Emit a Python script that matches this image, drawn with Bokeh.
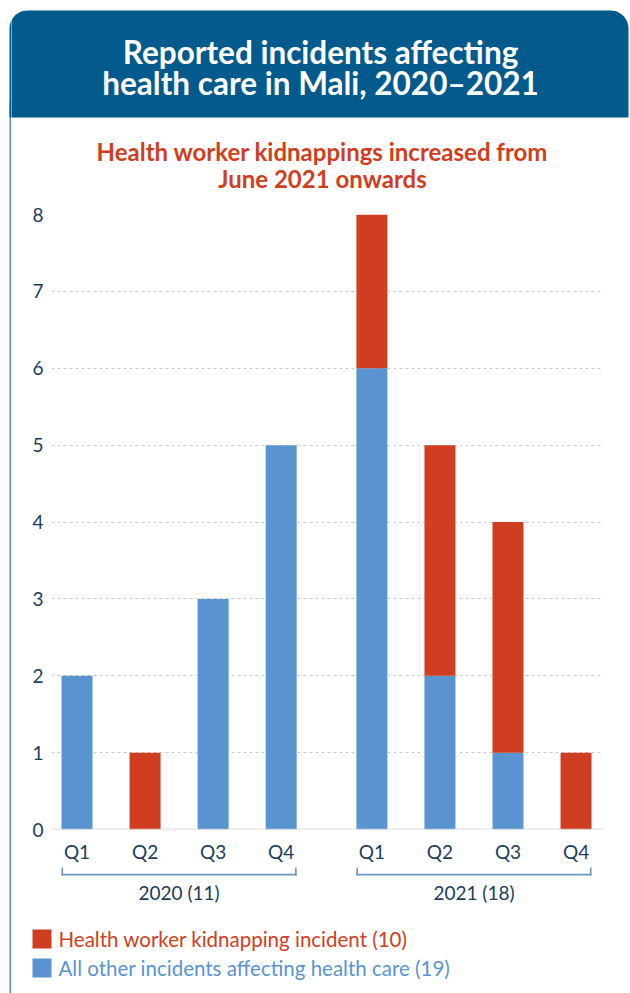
import math
from bokeh.plotting import figure
from bokeh.layouts import column, row
from bokeh.models import Range1d, FixedTicker, Span, ColumnDataSource
from bokeh.core.properties import value
from bokeh.embed import file_html
from bokeh.resources import INLINE

# ---------------- data ----------------
title_lines = ["Reported incidents affecting", "health care in Mali, 2020\u20132021"]
subtitle_lines = ["Health worker kidnappings increased from", "June 2021 onwards"]
years = ["2020", "2020", "2020", "2020", "2021", "2021", "2021", "2021"]
quarters = ["Q1", "Q2", "Q3", "Q4", "Q1", "Q2", "Q3", "Q4"]
kidnapping = [0, 1, 0, 0, 2, 3, 3, 1]
other = [2, 0, 3, 5, 6, 2, 1, 0]
series_names = ["Health worker kidnapping incident",
                "All other incidents affecting health care"]
y_ticks = [0, 1, 2, 3, 4, 5, 6, 7, 8]

# ---------------- style ----------------
HEADER = "#035a8c"
RED = "#cf3e21"
BLUE = "#5a94d0"
NAVY = "#1b3d5b"
STEEL = "#6b98bf"
CARD = "#5b8cb9"
GRID = "#c9c9c9"
FONT = "Lato"

W, H = 630, 993
STRIP_W = 11           # left strip carrying the card border
TOP_H = 200            # header panel height
MAIN_BOTTOM = 866      # page y where chart panel ends
FL, FR, FT, FB = 51, 603, 214, 829   # chart frame edges in page pixels

year_order = list(dict.fromkeys(years))
pos = [3 * i + year_order.index(y) for i, y in enumerate(years)]
XS, XE = -1.125, 23.21
YS, YE = 0, 8
BW = 31 * (XE - XS) / (FR - FL)

def px_of(x):
    return FL + (x - XS) * (FR - FL) / (XE - XS)


def no_align(f):
    if "frame_align" in f.properties():
        f.frame_align = False


def pixel_panel(x0, x1, y0, y1):
    f = figure(width=x1 - x0, height=y1 - y0, output_backend="svg", toolbar_location=None,
               x_range=Range1d(x0, x1), y_range=Range1d(y1, y0),
               x_axis_type=None, y_axis_type=None, min_border=0)
    f.outline_line_color = None
    f.grid.visible = False
    f.background_fill_color = "white"
    f.border_fill_color = "white"
    no_align(f)
    return f


def rounded_top(x0, x1, y0, y1, r, n=12):
    pts = [(x0, y1), (x0, y0 + r)]
    for k in range(1, n):
        a = math.pi + k * (math.pi / 2) / n
        pts.append((x0 + r + r * math.cos(a), y0 + r + r * math.sin(a)))
    pts.append((x0 + r, y0))
    pts.append((x1 - r, y0))
    for k in range(1, n):
        a = 1.5 * math.pi + k * (math.pi / 2) / n
        pts.append((x1 - r + r * math.cos(a), y0 + r + r * math.sin(a)))
    pts.append((x1, y0 + r))
    pts.append((x1, y1))
    return [a for a, _ in pts], [b for _, b in pts]

hx, hy = rounded_top(9, 628, 10, 117, 18)

# ---------------- left strip (card border) ----------------
strip = pixel_panel(0, STRIP_W, 0, H)
strip.quad(left=[9], right=[11], top=[100], bottom=[H + 5], fill_color=CARD, line_color=None)
strip.patch(hx, hy, fill_color=HEADER, line_color=None)

# ---------------- header panel ----------------
top = pixel_panel(STRIP_W, W, 0, TOP_H)
top.patch(hx, hy, fill_color=HEADER, line_color=None)
top.text(x=[320, 320], y=[51, 82], text=title_lines, text_align="center",
         text_baseline="alphabetic", text_font=value(FONT), text_font_style="bold",
         text_font_size=value("31.5px"), text_color="white")
top.text(x=[322, 322], y=[151, 178], text=subtitle_lines, text_align="center",
         text_baseline="alphabetic", text_font=value(FONT), text_font_style="bold",
         text_font_size=value("24px"), text_color=RED)

# ---------------- chart panel ----------------
src = ColumnDataSource(dict(pos=pos, other=other, kidnapping=kidnapping))
p = figure(width=W - STRIP_W, height=MAIN_BOTTOM - TOP_H, output_backend="svg",
           toolbar_location=None, x_range=Range1d(XS, XE), y_range=Range1d(YS, YE),
           min_border_left=FL - STRIP_W, min_border_right=W - FR,
           min_border_top=FT - TOP_H, min_border_bottom=MAIN_BOTTOM - FB)
p.outline_line_color = None
p.background_fill_color = "white"
p.border_fill_color = "white"
no_align(p)

p.vbar_stack(["other", "kidnapping"], x="pos", width=BW, source=src,
             fill_color=[BLUE, RED], line_color=None)

p.xaxis.ticker = FixedTicker(ticks=pos)
p.xaxis.major_label_overrides = {x: q for x, q in zip(pos, quarters)}
p.yaxis.ticker = FixedTicker(ticks=y_ticks)
for ax in (p.xaxis, p.yaxis):
    ax.axis_line_color = None
    ax.major_tick_line_color = None
    ax.minor_tick_line_color = None
    ax.major_tick_out = 0
    ax.major_tick_in = 0
    ax.major_label_text_font = FONT
    ax.major_label_text_font_size = "19px"
    ax.major_label_text_color = NAVY
p.xaxis.major_label_standoff = 10
p.yaxis.major_label_standoff = 8

p.xgrid.visible = False
p.ygrid.grid_line_color = GRID
p.ygrid.grid_line_dash = "3 3"
p.ygrid.grid_line_width = 1
p.add_layout(Span(location=0, dimension="width", line_color="#d3d3d3", line_width=1.5))

# ---------------- bottom panel: year brackets + legend ----------------
bot = pixel_panel(STRIP_W, W, MAIN_BOTTOM, H)

for yr in year_order:
    idx = [i for i, y in enumerate(years) if y == yr]
    left = px_of(pos[idx[0]] - BW / 2)
    right = px_of(pos[idx[-1]] + BW / 2)
    total = sum(kidnapping[i] + other[i] for i in idx)
    bot.quad(left=[left, left, right - 1.6], right=[right, left + 1.6, right],
             top=[873.3, 867, 867], bottom=[875, 875, 875],
             fill_color=STEEL, line_color=None)
    bot.text(x=[(left + right) / 2], y=[892], text=[f"{yr} ({total})"],
             text_align="center", text_baseline="alphabetic", text_font=value(FONT),
             text_font_size=value("19px"), text_color=NAVY)

legend_rows = [(f"{series_names[0]} ({sum(kidnapping)})", RED, 929, 948, 938),
               (f"{series_names[1]} ({sum(other)})", BLUE, 958, 977, 967)]
for text, col, t, b, base in legend_rows:
    bot.quad(left=[32], right=[51], top=[t], bottom=[b], fill_color=col, line_color=None)
    bot.text(x=[58], y=[base], text=[text], text_align="left", text_baseline="alphabetic",
             text_font=value(FONT), text_font_size=value("20.5px"), text_color=col)

layout = row(strip, column(top, p, bot, spacing=0), spacing=0)
open("out.html", "w").write(file_html(layout, INLINE))
